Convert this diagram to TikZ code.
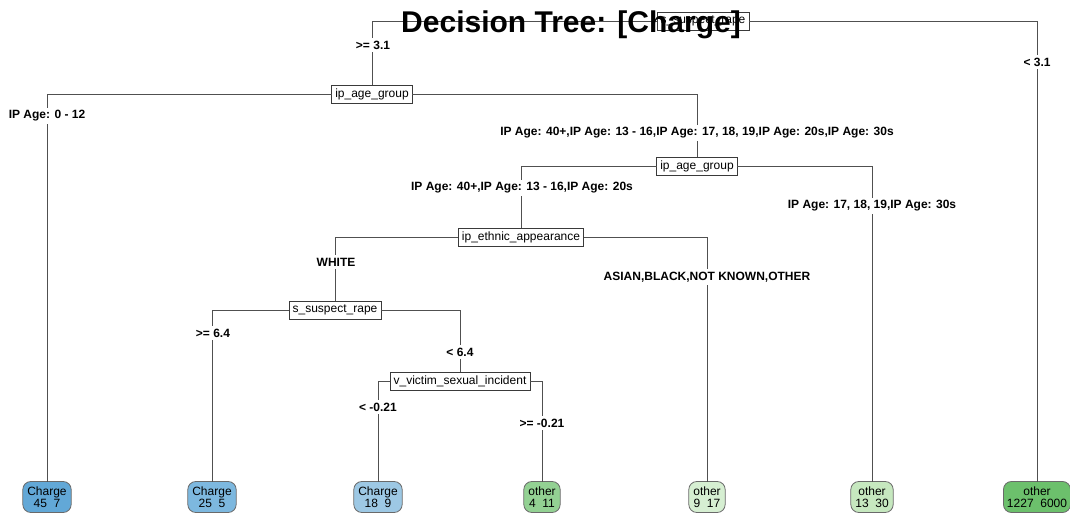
\documentclass[tikz,border=0pt]{standalone}
\usepackage{fontspec}
\setmainfont{Liberation Sans}
\definecolor{edgegray}{HTML}{505050}
\definecolor{boxgray}{HTML}{3A3A3A}
\definecolor{leafgray}{HTML}{6A6A6A}
\definecolor{chargeA}{HTML}{62A8D7}
\definecolor{chargeB}{HTML}{7DB8DF}
\definecolor{chargeC}{HTML}{9DC8E4}
\definecolor{otherA}{HTML}{93D193}
\definecolor{otherB}{HTML}{D6EFD2}
\definecolor{otherC}{HTML}{C6E8BF}
\definecolor{otherD}{HTML}{6CC06C}
\begin{document}
\begin{tikzpicture}[x=1pt,y=-1pt,
  edge/.style={draw=edgegray, line width=0.8pt},
  split/.style={draw=boxgray, line width=0.7pt, fill=white,
    font=\fontsize{12}{14}\selectfont, inner xsep=3.5pt, inner ysep=0pt,
    minimum height=18pt, outer sep=0pt},
  leaf/.style={draw=leafgray, line width=0.8pt, rounded corners=8pt,
    font=\fontsize{12}{12.5}\selectfont, align=center, inner xsep=4.5pt,
    inner ysep=0pt, minimum height=31pt, outer sep=0pt},
  cond/.style={fill=white, font=\bfseries\fontsize{12}{14}\selectfont,
    inner xsep=1pt, inner ysep=2.5pt},
]
\fill[white] (0,0) rectangle (1070,518);
\useasboundingbox (0,0) rectangle (1070,518);

% split nodes
\node[split] (root) at (703,21) {s\_suspect\_rape};
\node[split] (ageA) at (372,94) {ip\_age\_group};
\node[split] (ageB) at (697,166) {ip\_age\_group};
\node[split] (eth)  at (521,237) {ip\_ethnic\_appearance};
\node[split] (rape) at (335,310) {s\_suspect\_rape};
\node[split] (vict) at (460,381) {v\_victim\_sexual\_incident};

% leaves
\node[leaf, fill=chargeA] (l1) at (47,497)   {Charge\\45~~7};
\node[leaf, fill=chargeB] (l2) at (212,497)  {Charge\\25~~5};
\node[leaf, fill=chargeC] (l3) at (378,497)  {Charge\\18~~9};
\node[leaf, fill=otherA]  (l4) at (542,497)  {other\\4~~11};
\node[leaf, fill=otherB]  (l5) at (707,497)  {other\\9~~17};
\node[leaf, fill=otherC]  (l6) at (872,497)  {other\\13~~30};
\node[leaf, fill=otherD, inner xsep=3.5pt] (l7) at (1037,497) {other\\1227~~6000};

% connectors
\draw[edge] (root.west) -| (ageA.north);
\draw[edge] (root.east) -| (l7.north);
\draw[edge] (ageA.west) -| (l1.north);
\draw[edge] (ageA.east) -| (ageB.north);
\draw[edge] (ageB.west) -| (eth.north);
\draw[edge] (ageB.east) -| (l6.north);
\draw[edge] (eth.west) -| (rape.north);
\draw[edge] (eth.east) -| (l5.north);
\draw[edge] (rape.west) -| (l2.north);
\draw[edge] (rape.east) -| (vict.north);
\draw[edge] (vict.west) -| (l3.north);
\draw[edge] (vict.east) -| (l4.north);

% split conditions
\node[cond] (c1)  at (373,45)  {>= 3.1};
\node[cond] (c2)  at (1037,62) {< 3.1};
\node[cond] (c3)  at (47,116)  {IP Age: 0 - 12};
\node[cond] (c4)  at (697,133) {IP Age: 40+,IP Age: 13 - 16,IP Age: 17, 18, 19,IP Age: 20s,IP Age: 30s};
\node[cond] (c5)  at (522,188) {IP Age: 40+,IP Age: 13 - 16,IP Age: 20s};
\node[cond] (c6)  at (872,206) {IP Age: 17, 18, 19,IP Age: 30s};
\node[cond] (c7)  at (336,262) {WHITE};
\node[cond] (c8)  at (707,277) {ASIAN,BLACK,NOT KNOWN,OTHER};
\node[cond] (c9)  at (213,333) {>= 6.4};
\node[cond] (c10) at (460,352) {< 6.4};
\node[cond] (c11) at (378,407) {< -0.21};
\node[cond] (c12) at (542,423) {>= -0.21};

% title
\node[anchor=base, font=\bfseries\fontsize{30}{34}\selectfont, inner sep=0pt] (title) at (571,33) {Decision Tree: [Charge]};
\end{tikzpicture}
\end{document}
